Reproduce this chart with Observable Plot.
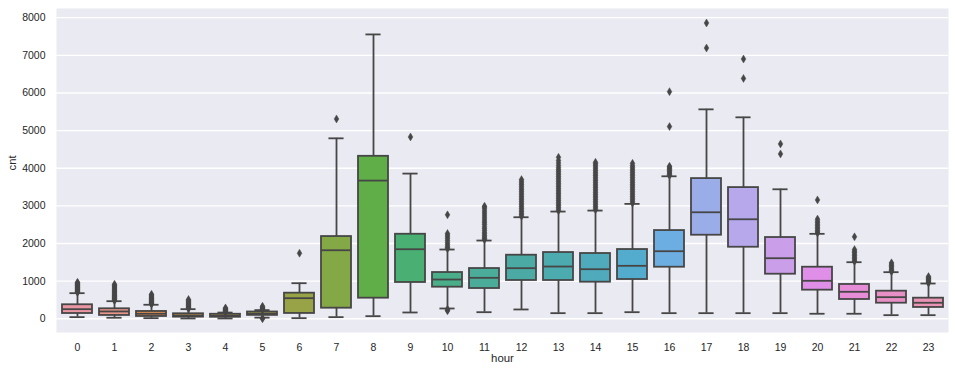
<!DOCTYPE html>
<html>
<head>
<meta charset="utf-8">
<script src="https://cdn.jsdelivr.net/npm/d3@7"></script>
<script src="https://cdn.jsdelivr.net/npm/@observablehq/plot@0.6"></script>
<style>
  html, body { margin: 0; padding: 0; background: #ffffff; }
</style>
</head>
<body>
<div id="chart"></div>
<script>
// ---- data ----
const hours = [0,1,2,3,4,5,6,7,8,9,10,11,12,13,14,15,16,17,18,19,20,21,22,23];
const whiskerLow  = [43, 27, 16, 8, 8, 30, 16, 43, 69, 167, 273, 175, 247, 149, 149, 175, 149, 149, 149, 149, 133, 133, 96, 96];
const q1          = [140, 88, 61, 43, 40, 90, 141, 281, 547, 964, 839, 804, 1017, 1017, 972, 1043, 1370, 2220, 1901, 1184, 760, 512, 414, 300];
const medians     = [255, 194, 133, 88, 80, 135, 547, 1821, 3672, 1848, 1043, 1088, 1344, 1388, 1317, 1407, 1795, 2830, 2644, 1609, 1009, 717, 574, 425];
const q3          = [372, 265, 194, 133, 120, 180, 680, 2185, 4317, 2246, 1229, 1335, 1689, 1760, 1734, 1840, 2344, 3725, 3486, 2159, 1370, 911, 733, 547];
const whiskerHigh = [680, 467, 372, 255, 165, 230, 945, 4795, 7556, 3858, 1840, 2079, 2698, 2849, 2875, 3053, 3786, 5565, 5353, 3441, 2257, 1503, 1238, 937];
const outliers = [
  [700, 718, 735, 752, 770, 790, 806, 824, 842, 861, 878, 896, 915, 933, 952, 968],
  [482, 503, 527, 548, 571, 592, 614, 638, 661, 688, 712, 736, 761, 788, 814, 842, 868, 893, 918],
  [386, 404, 421, 442, 463, 487, 509, 532, 556, 578, 604, 629, 652],
  [266, 283, 301, 322, 344, 366, 388, 411, 436, 462, 489, 514],
  [176, 191, 207, 222, 239, 256, 273, 288],
  [4, 10, 241, 256, 272, 291, 311, 333],
  [1742],
  [5310],
  [],
  [4832],
  [212, 231, 252, 1862, 1893, 1931, 1978, 2027, 2081, 2133, 2178, 2226, 2268, 2761],
  [2102, 2133, 2171, 2214, 2258, 2302, 2349, 2398, 2447, 2503, 2551, 2598, 2652, 2703, 2758, 2812, 2866, 2921, 2968, 2992],
  [2722, 2764, 2806, 2851, 2893, 2938, 2984, 3027, 3072, 3118, 3163, 3208, 3252, 3297, 3341, 3386, 3431, 3476, 3522, 3567, 3611, 3656, 3698],
  [2871, 2916, 2962, 3008, 3053, 3097, 3143, 3188, 3234, 3279, 3326, 3371, 3417, 3462, 3507, 3553, 3598, 3644, 3689, 3735, 3780, 3826, 3871, 3917, 3963, 4011, 4072, 4138, 4206, 4290],
  [2897, 2941, 2986, 3032, 3077, 3122, 3168, 3213, 3259, 3304, 3349, 3395, 3441, 3486, 3531, 3577, 3622, 3668, 3713, 3759, 3804, 3849, 3895, 3941, 3986, 4032, 4078, 4121, 4158],
  [3072, 3116, 3161, 3207, 3252, 3297, 3343, 3389, 3434, 3479, 3525, 3571, 3616, 3661, 3707, 3752, 3798, 3843, 3889, 3934, 3979, 4025, 4071, 4131],
  [3806, 3838, 3871, 3903, 3936, 3968, 4001, 4033, 4052, 5106, 6035],
  [7195, 7860],
  [6388, 6903],
  [4381, 4646],
  [2276, 2312, 2349, 2391, 2433, 2472, 2514, 2556, 2601, 2648, 3159],
  [1521, 1558, 1596, 1637, 1676, 1717, 1758, 1797, 1838, 2177],
  [1252, 1284, 1317, 1351, 1386, 1421, 1454, 1487],
  [952, 973, 996, 1021, 1047, 1072, 1098, 1121]
];
const yTicks = [0, 1000, 2000, 3000, 4000, 5000, 6000, 7000, 8000];
const xLabel = "hour";
const yLabel = "cnt";

// ---- seaborn-style husl palette (24 colours, l=.7) desaturated to .75 ----
const M = [[3.2406, -1.5372, -0.4986], [-0.9689, 1.8758, 0.0415], [0.0557, -0.2040, 1.0570]];
const refU = 0.19784, refV = 0.46834, labE = 0.008856, labK = 903.3;
function maxChroma(L, H) {
  const hr = H / 360 * 2 * Math.PI, sinH = Math.sin(hr), cosH = Math.cos(hr);
  const sub1 = Math.pow(L + 16, 3) / 1560896;
  const sub2 = sub1 > labE ? sub1 : L / labK;
  let res = Infinity;
  for (const [m1, m2, m3] of M) {
    const top = (0.99915 * m1 + 1.05122 * m2 + 1.14460 * m3) * sub2;
    const rb = 0.86330 * m3 - 0.17266 * m2;
    const lb = 0.12949 * m3 - 0.38848 * m1;
    const bottom = (rb * sinH + lb * cosH) * sub2;
    for (const t of [0, 1]) {
      const C = L * (top - 1.05122 * t) / (bottom + 0.17266 * sinH * t);
      if (C > 0 && C < res) res = C;
    }
  }
  return res;
}
function huslToRgb(h, s, l) {
  const C = maxChroma(l, h) / 100 * s;
  const hr = h / 360 * 2 * Math.PI;
  const U = C * Math.cos(hr), V = C * Math.sin(hr);
  const t = (l + 16) / 116;
  const Y = Math.pow(t, 3) > labE ? Math.pow(t, 3) : (116 * t - 16) / labK;
  const vU = U / (13 * l) + refU, vV = V / (13 * l) + refV;
  const X = 0 - (9 * Y * vU) / ((vU - 4) * vV - vU * vV);
  const Z = (9 * Y - 15 * vV * Y - vV * X) / (3 * vV);
  return M.map(([a, b, c]) => {
    const v = a * X + b * Y + c * Z;
    const g = v <= 0.0031308 ? 12.92 * v : 1.055 * Math.pow(v, 1 / 2.4) - 0.055;
    return Math.max(0, Math.min(1, g));
  });
}
const nC = hours.length;
const palette = hours.map((_, i) => {
  const h = ((i / nC + 0.01) % 1) * 359;
  const [r, g, b] = huslToRgb(h, 0.9 * 99, 0.7 * 99);
  const c = d3.hsl(d3.rgb(r * 255, g * 255, b * 255));
  c.s *= 0.75;
  return c.formatHex();
});
const minL = d3.min(palette, c => d3.hsl(c).l);
const gv = Math.round(minL * 0.6 * 255);
const gray = d3.rgb(gv, gv, gv).formatHex();

// ---- tables built from the arrays ----
const rows = hours.map((h, i) => ({
  hour: h, lo: whiskerLow[i], q1: q1[i], med: medians[i], q3: q3[i], hi: whiskerHigh[i], color: palette[i]
}));
const fliers = hours.flatMap((h, i) => outliers[i].map(v => ({hour: h, v})));

// thin diamond (matplotlib "d")
const thinDiamond = {
  draw(context, size) {
    const r = Math.sqrt(size / Math.PI);
    const w = r * 0.6;
    context.moveTo(0, -r);
    context.lineTo(w, 0);
    context.lineTo(0, r);
    context.lineTo(-w, 0);
    context.closePath();
  }
};

const width = 955, height = 374;
const mL = 56, mR = 7;
const step = (width - mL - mR) / (hours.length);
const capInset = step * 0.8 * 0.25;
const lw = 1.8;

const chart = Plot.plot({
  width, height,
  marginLeft: mL, marginRight: mR, marginTop: 8, marginBottom: 42,
  style: {background: "#ffffff", fontFamily: "'Liberation Sans', Arial, sans-serif", fontSize: "10.5px", color: "#262626"},
  x: {type: "band", domain: hours, paddingInner: 0.2, paddingOuter: 0.1, label: null, tickSize: 0, tickPadding: 11.5},
  y: {domain: [-365, 8245], ticks: yTicks, tickFormat: d => String(d), label: null, tickSize: 0, tickPadding: 11},
  color: {type: "identity"},
  marks: [
    Plot.frame({fill: "#EAEAF2", stroke: null}),
    Plot.ruleY(yTicks, {stroke: "#ffffff", strokeWidth: 1.3}),
    Plot.barY(rows, {x: "hour", y1: "q1", y2: "q3", fill: "color", stroke: gray, strokeWidth: lw}),
    Plot.ruleX(rows, {x: "hour", y1: "q3", y2: "hi", stroke: gray, strokeWidth: lw}),
    Plot.ruleX(rows, {x: "hour", y1: "lo", y2: "q1", stroke: gray, strokeWidth: lw}),
    Plot.tickY(rows, {x: "hour", y: "hi", insetLeft: capInset, insetRight: capInset, stroke: gray, strokeWidth: lw}),
    Plot.tickY(rows, {x: "hour", y: "lo", insetLeft: capInset, insetRight: capInset, stroke: gray, strokeWidth: lw}),
    Plot.tickY(rows, {x: "hour", y: "med", stroke: gray, strokeWidth: lw}),
    Plot.dot(fliers, {x: "hour", y: "v", symbol: thinDiamond, r: 4, fill: gray, stroke: gray, strokeWidth: 0.4}),
    Plot.text([xLabel], {frameAnchor: "bottom", dy: 29.3, text: d => d, fontSize: 11.4, fill: "#262626"}),
    Plot.text([yLabel], {frameAnchor: "left", dx: -44.6, rotate: -90, text: d => d, fontSize: 11.4, fill: "#262626"})
  ]
});
document.getElementById("chart").appendChild(chart);
</script>
</body>
</html>
